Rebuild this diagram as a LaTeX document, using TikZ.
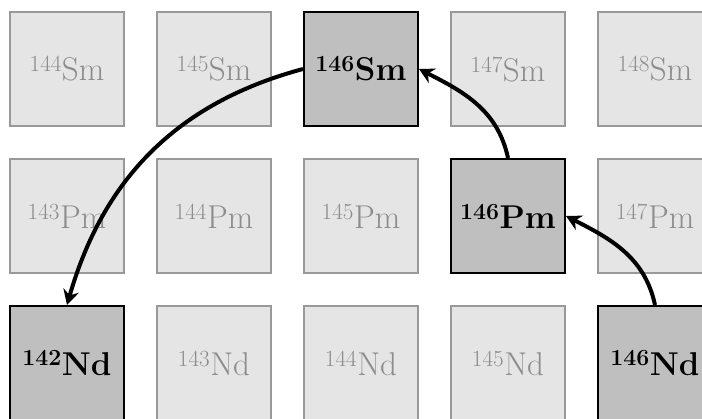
\documentclass[tikz,border=0pt]{standalone}
\usetikzlibrary{arrows.meta}
\begin{document}
\begin{tikzpicture}[x=1pt,y=1pt,
  faded/.style={draw=black!40,line width=1.2pt,fill=black!10,minimum size=114pt,inner sep=0pt,text=black!45,font=\fontsize{33}{40}\selectfont},
  hl/.style={draw=black,line width=2pt,fill=black!25,minimum size=114pt,inner sep=0pt,text=black,font=\fontsize{33}{40}\selectfont\bfseries},
  decay/.style={-{Stealth[length=15pt,width=16pt,inset=5pt]},line width=4pt,black}]
\useasboundingbox (0,0) rectangle (702,418);
\clip (0,0) rectangle (702,418);
% row Sm
\node[faded] (sm144) at (67,349) {\textsuperscript{144}Sm};
\node[faded] (sm145) at (214,349) {\textsuperscript{145}Sm};
\node[hl]    (sm146) at (361,349) {\textsuperscript{146}Sm};
\node[faded] (sm147) at (508,349) {\textsuperscript{147}Sm};
\node[faded] (sm148) at (655,349) {\textsuperscript{148}Sm};
% row Pm
\node[faded] (pm143) at (67,202) {\textsuperscript{143}Pm};
\node[faded] (pm144) at (214,202) {\textsuperscript{144}Pm};
\node[faded] (pm145) at (361,202) {\textsuperscript{145}Pm};
\node[hl]    (pm146) at (508,202) {\textsuperscript{146}Pm};
\node[faded] (pm147) at (655,202) {\textsuperscript{147}Pm};
% row Nd
\node[hl]    (nd142) at (67,55) {\textsuperscript{142}Nd};
\node[faded] (nd143) at (214,55) {\textsuperscript{143}Nd};
\node[faded] (nd144) at (361,55) {\textsuperscript{144}Nd};
\node[faded] (nd145) at (508,55) {\textsuperscript{145}Nd};
\node[hl]    (nd146) at (655,55) {\textsuperscript{146}Nd};
% decays
\draw[decay] (nd146.north) to[out=102,in=-27] (pm146.east);
\draw[decay] (pm146.north) to[out=102,in=-27] (sm146.east);
\draw[decay] (sm146.west) to[out=195,in=74] (nd142.north);
\end{tikzpicture}
\end{document}
